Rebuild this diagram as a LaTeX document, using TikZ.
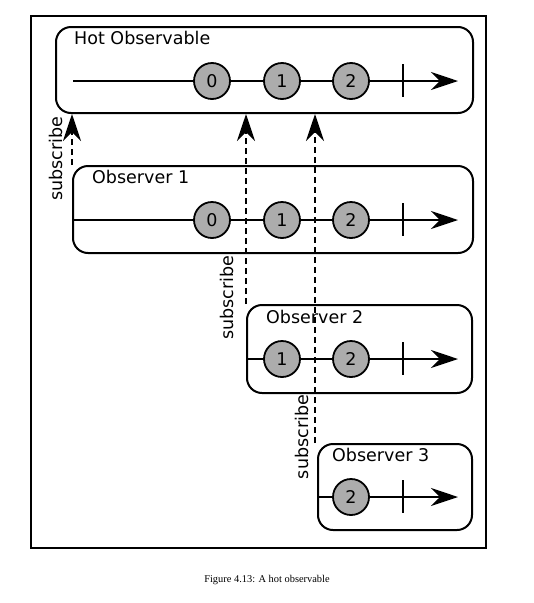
\documentclass[tikz,border=0pt]{standalone}
\usepackage{fontspec}
\setmainfont{DejaVu Sans}
\newfontfamily\capfont{Liberation Serif}
\usetikzlibrary{arrows.meta,positioning,calc}

\begin{document}
\begin{tikzpicture}[x=1pt,y=-1pt,
   font=\fontsize{17.5}{20}\selectfont,
   >={Stealth[length=27pt,width=18pt,inset=9pt]},
   obsbox/.style={draw,line width=2pt,rounded corners=15pt,inner sep=0pt},
   boxtitle/.style={anchor=base west,inner sep=0pt},
   event/.style={circle,draw,fill=gray!65,line width=1.8pt,minimum size=36pt,inner sep=0pt},
   timeline/.style={->,line width=1.8pt},
   tickmark/.style={line width=1.8pt},
   sub/.style={->,line width=1.8pt,dash pattern=on 6pt off 4pt},
   sublabel/.style={rotate=90,inner sep=0pt}]
   \useasboundingbox (0,0) rectangle (534,603);
   \draw[line width=2pt] (31,16) rectangle (486,548);

   % boxes
   \node[obsbox,minimum width=417pt,minimum height=86pt] (hot) at (264.5,70) {};
   \node[obsbox,minimum width=400pt,minimum height=87pt] (o1) at (273,209.5) {};
   \node[obsbox,minimum width=225pt,minimum height=88pt] (o2) at (359.5,349) {};
   \node[obsbox,minimum width=154pt,minimum height=86pt] (o3) at (395,487) {};
   \node[boxtitle] (hotlbl) at ($(hot.north west)+(19,18)$) {Hot Observable};
   \node[boxtitle] (o1lbl) at ($(o1.north west)+(20,18)$) {Observer 1};
   \node[boxtitle] (o2lbl) at ($(o2.north west)+(20,19)$) {Observer 2};
   \node[boxtitle] (o3lbl) at ($(o3.north west)+(15,18)$) {Observer 3};

   % timelines
   \coordinate (hs) at (73,81);   \coordinate (he) at (458,81);
   \coordinate (o1s) at (73,220); \coordinate (o1e) at (458,220);
   \coordinate (o2s) at (247,359); \coordinate (o2e) at (458,359);
   \coordinate (o3s) at (318,497); \coordinate (o3e) at (458,497);
   \draw[timeline] (hs) -- (he);
   \draw[timeline] (o1s) -- (o1e);
   \draw[timeline] (o2s) -- (o2e);
   \draw[timeline] (o3s) -- (o3e);
   \foreach \y/\r in {81/hot,220/o1,359/o2,497/o3}
      \draw[tickmark] (403,\y-17) -- (403,\y+16);
   \foreach \v/\x in {0/212,1/282,2/351} {
      \node[event] (h\v) at (\x,81) {\v};
      \node[event] (a\v) at (\x,220) {\v};
   }
   \node[event] (b1) at (282,359) {1};
   \node[event] (b2) at (351,359) {2};
   \node[event] (c2) at (351,497) {2};

   % subscriptions
   \path[sub]
    (o1.north west) edge (o1.north west |- hot.south)
    (o2.north west) edge (o2.north west |- hot.south)
    ($(o3.north west)+(-2,0)$) edge ($(o3.north west |- hot.south)+(-2,0)$);
   \node[sublabel] (s1) at ($(o1.north west)+(-16,-6)$) {subscribe};
   \node[sublabel] (s2) at ($(o2.north west)+(-19,-6)$) {subscribe};
   \node[sublabel] (s3) at ($(o3.north west)+(-15,-6)$) {subscribe};

   \node[font=\capfont\fontsize{10.4}{12}\selectfont] (cap) at (267,580) {Figure 4.13: A hot observable};
\end{tikzpicture}
\end{document}
